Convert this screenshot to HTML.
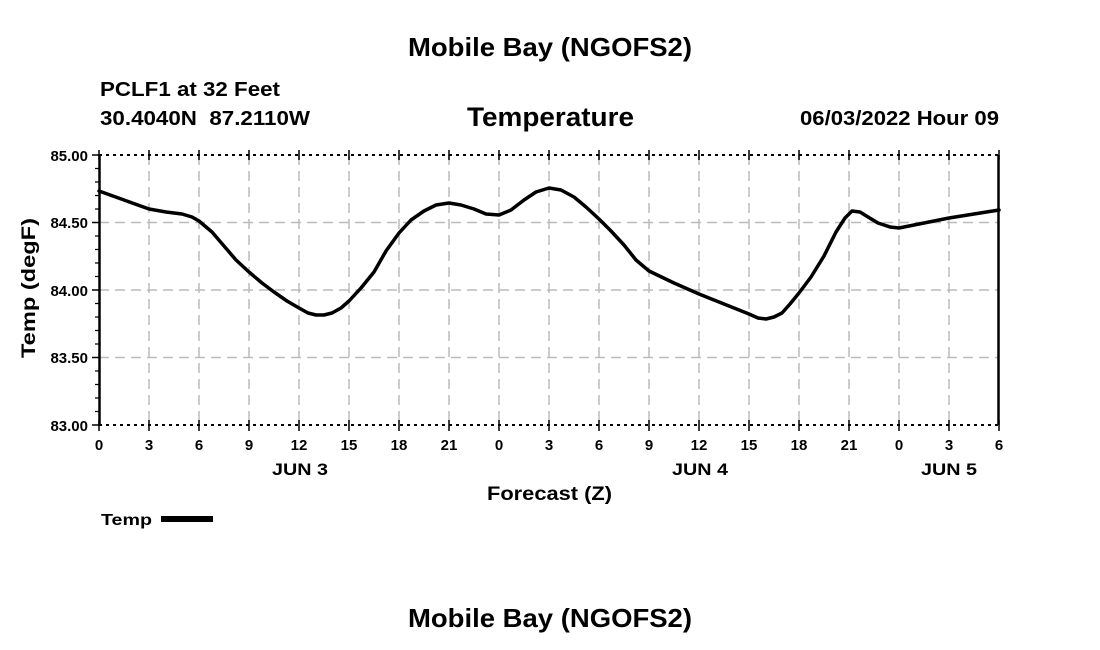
<!DOCTYPE html>
<html><head><meta charset="utf-8"><style>
body{margin:0;background:#fff;}
svg{display:block;font-family:"Liberation Sans",sans-serif;font-weight:bold;}
</style></head><body>
<svg width="1100" height="650" viewBox="0 0 1100 650">
<text x="408" y="56" font-size="26" textLength="284" lengthAdjust="spacingAndGlyphs">Mobile Bay (NGOFS2)</text>
<text x="100" y="96" font-size="20" textLength="180" lengthAdjust="spacingAndGlyphs">PCLF1 at 32 Feet</text>
<text x="100" y="125" font-size="20" textLength="210" lengthAdjust="spacingAndGlyphs">30.4040N&#160;&#160;87.2110W</text>
<text x="467" y="126" font-size="27" textLength="167" lengthAdjust="spacingAndGlyphs">Temperature</text>
<text x="800" y="125" font-size="20" textLength="199" lengthAdjust="spacingAndGlyphs">06/03/2022 Hour 09</text>
<g stroke="#bbb" stroke-width="1.5" stroke-dasharray="10,6" fill="none">
<path d="M149 155V425M199 155V425M249 155V425M299 155V425M349 155V425M399 155V425M449 155V425M499 155V425M549 155V425M599 155V425M649 155V425M699 155V425M749 155V425M799 155V425M849 155V425M899 155V425M949 155V425"/>
<path d="M99 222.5H999M99 290H999M99 357.5H999"/>
</g>
<g stroke="#000" fill="none">
<path d="M99 155H999M99 425H999" stroke-width="2" stroke-dasharray="3,4"/>
<path d="M99.5 155V425M998.5 155V425" stroke-width="2.5"/>
<path d="M99 150V160M149 150V160M199 150V160M249 150V160M299 150V160M349 150V160M399 150V160M449 150V160M499 150V160M549 150V160M599 150V160M649 150V160M699 150V160M749 150V160M799 150V160M849 150V160M899 150V160M949 150V160M999 150V160" stroke-width="1.5"/>
<path d="M99 420V431M149 420V431M199 420V431M249 420V431M299 420V431M349 420V431M399 420V431M449 420V431M499 420V431M549 420V431M599 420V431M649 420V431M699 420V431M749 420V431M799 420V431M849 420V431M899 420V431M949 420V431M999 420V431" stroke-width="1.5"/>
<path d="M92 155H99M92 222.5H99M92 290H99M92 357.5H99M92 425H99" stroke-width="1.5"/>
<path d="M95 168.5H99M95 182H99M95 195.5H99M95 209H99M95 236H99M95 249.5H99M95 263H99M95 276.5H99M95 303.5H99M95 317H99M95 330.5H99M95 344H99M95 371H99M95 384.5H99M95 398H99M95 411.5H99" stroke-width="1.2"/>
</g>
<g font-size="15" text-anchor="end">
<text x="88" y="161">85.00</text><text x="88" y="228">84.50</text><text x="88" y="296">84.00</text><text x="88" y="363">83.50</text><text x="88" y="431">83.00</text>
</g>
<g font-size="15" text-anchor="middle">
<text x="99" y="450">0</text><text x="149" y="450">3</text><text x="199" y="450">6</text><text x="249" y="450">9</text><text x="299" y="450">12</text><text x="349" y="450">15</text><text x="399" y="450">18</text><text x="449" y="450">21</text><text x="499" y="450">0</text><text x="549" y="450">3</text><text x="599" y="450">6</text><text x="649" y="450">9</text><text x="699" y="450">12</text><text x="749" y="450">15</text><text x="799" y="450">18</text><text x="849" y="450">21</text><text x="899" y="450">0</text><text x="949" y="450">3</text><text x="999" y="450">6</text>
</g>
<g font-size="17">
<text x="272" y="475" textLength="56" lengthAdjust="spacingAndGlyphs">JUN 3</text>
<text x="672" y="475" textLength="56" lengthAdjust="spacingAndGlyphs">JUN 4</text>
<text x="921" y="475" textLength="56" lengthAdjust="spacingAndGlyphs">JUN 5</text>
</g>
<text x="487" y="500" font-size="19" textLength="125" lengthAdjust="spacingAndGlyphs">Forecast (Z)</text>
<text transform="translate(35,358) rotate(-90)" font-size="19" textLength="140" lengthAdjust="spacingAndGlyphs">Temp (degF)</text>
<polyline fill="none" stroke="#000" stroke-width="3.5" stroke-linejoin="round" stroke-linecap="round" points="99,191 124,200 149,209 166,212 182,214 192,217 199,221 212,232 224,246 236,260 249,272 262,283 274,292 287,301 299,308 308,313 316,315 324,315 332,313 341,308 349,301 361,288 374,272 386,251 399,233 411,220 424,211 436,205 449,203 461,205 474,209 486,214 499,215 511,210 524,200 536,192 549,188 561,190 574,197 586,207 599,219 611,231 624,245 636,260 649,271 674,283 699,294 724,304 749,314 758,318 766,319 774,317 782,313 790,304 799,293 811,277 824,256 836,232 845,218 852,211 860,212 868,217 878,223 890,227 899,228 924,223 949,218 974,214 999,210"/>
<text x="101" y="525" font-size="16" textLength="51" lengthAdjust="spacingAndGlyphs">Temp</text>
<rect x="161" y="516" width="52" height="6" fill="#000"/>
<text x="408" y="627" font-size="26" textLength="284" lengthAdjust="spacingAndGlyphs">Mobile Bay (NGOFS2)</text>
</svg>
</body></html>
